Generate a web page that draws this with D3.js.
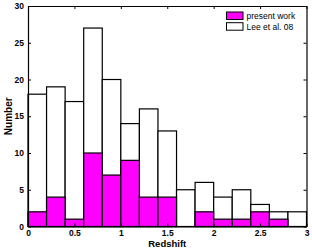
<!DOCTYPE html>
<html>
<head>
<meta charset="utf-8">
<script src="https://cdn.jsdelivr.net/npm/d3@7"></script>
<style>
    body { margin: 0; background: #fff; }
    text { font-family: "Liberation Sans", Arial, sans-serif; font-weight: bold; }
</style>
</head>
<body>
<div id="chart"></div>
<script>
//
// Redshift histogram
//

var binEdges = [0, 0.2, 0.4, 0.6, 0.8, 1.0, 1.2, 1.4, 1.6, 1.8, 2.0, 2.2, 2.4, 2.6, 2.8, 3.0];
var leeCounts = [18, 19, 17, 27, 20, 14, 16, 13, 5, 6, 4, 5, 3, 2, 2];
var presentCounts = [2, 4, 1, 10, 7, 9, 4, 4, 0, 2, 1, 1, 2, 1, 0];
var xTicks = [0, 0.5, 1, 1.5, 2, 2.5, 3];
var yTicks = [0, 5, 10, 15, 20, 25, 30];
var legendNames = ["present work", "Lee et al. 08"];
var legendColors = ["#ff00ff", "#ffffff"];

const _width = 312;
const _height = 251;
const _marginLeft = 28;
const _marginRight = 5.5;
const _marginTop = 6;
const _marginBottom = 24.5;

function toBins(counts) {
    var bins = [];
    for (i = 0; i < counts.length; i++) {
        bins.push({ 'x0': binEdges[i], 'x1': binEdges[i + 1], 'y': counts[i] });
    }
    return bins;
}

var svg = d3.select("#chart")
    .append("svg")
    .attr("width", _width)
    .attr("height", _height);

var x = d3.scaleLinear().domain([0, 3]).range([_marginLeft, _width - _marginRight]);
var y = d3.scaleLinear().domain([0, 30]).range([_height - _marginBottom, _marginTop]);

function drawBars(bins, fill) {
    svg.append("g")
        .selectAll("rect")
        .data(bins.filter(d => d.y > 0))
        .join("rect")
        .attr("x", d => x(d.x0))
        .attr("y", d => y(d.y))
        .attr("width", d => x(d.x1) - x(d.x0))
        .attr("height", d => y(0) - y(d.y))
        .attr("fill", fill)
        .attr("stroke", "#000")
        .attr("stroke-width", 1.2);
}

drawBars(toBins(leeCounts), "#ffffff");
drawBars(toBins(presentCounts), "#ff00ff");

// axes (box with inward ticks)
var bottomAxis = d3.axisBottom(x).tickValues(xTicks).tickSizeInner(-3).tickSizeOuter(0).tickPadding(3.5)
    .tickFormat(d3.format("~g"));
var topAxis = d3.axisTop(x).tickValues(xTicks).tickSizeInner(-3).tickSizeOuter(0).tickFormat("");
var leftAxis = d3.axisLeft(y).tickValues(yTicks).tickSizeInner(-3).tickSizeOuter(0).tickPadding(4);
var rightAxis = d3.axisRight(y).tickValues(yTicks).tickSizeInner(-3).tickSizeOuter(0).tickFormat("");

svg.append("g").attr("transform", "translate(0," + y(0) + ")").call(bottomAxis);
svg.append("g").attr("transform", "translate(0," + y(30) + ")").call(topAxis);
svg.append("g").attr("transform", "translate(" + x(0) + ",0)").call(leftAxis);
svg.append("g").attr("transform", "translate(" + x(3) + ",0)").call(rightAxis);

svg.selectAll(".domain").attr("stroke", "#000").attr("stroke-width", 1.2);
svg.selectAll(".tick line").attr("stroke", "#000");
svg.selectAll(".tick text").attr("fill", "#000").style("font-size", "8.5px").style("font-family", null);

// axis labels
svg.append("text")
    .attr("x", (x(0) + x(3)) / 2)
    .attr("y", 247)
    .style("text-anchor", "middle")
    .style("font-size", "9.5px")
    .text("Redshift");

svg.append("text")
    .attr("transform", "translate(11.5," + ((y(0) + y(30)) / 2) + ") rotate(-90)")
    .style("text-anchor", "middle")
    .style("font-size", "10px")
    .text("Number");

// legend
var legend = svg.selectAll(".legend")
    .data(legendNames)
    .enter()
    .append("g")
    .attr("class", "legend");

legend.append("rect")
    .attr("x", 226.5)
    .attr("y", (d, idx) => 12 + idx * 10.7)
    .attr("width", 16.5)
    .attr("height", 7.5)
    .attr("fill", (d, idx) => legendColors[idx])
    .attr("stroke", "#000")
    .attr("stroke-width", 1);

legend.append("text")
    .attr("x", 246.5)
    .attr("y", (d, idx) => 19 + idx * 10.7)
    .style("font-size", "8.5px")
    .style("font-weight", "normal")
    .text(d => d);
</script>
</body>
</html>
